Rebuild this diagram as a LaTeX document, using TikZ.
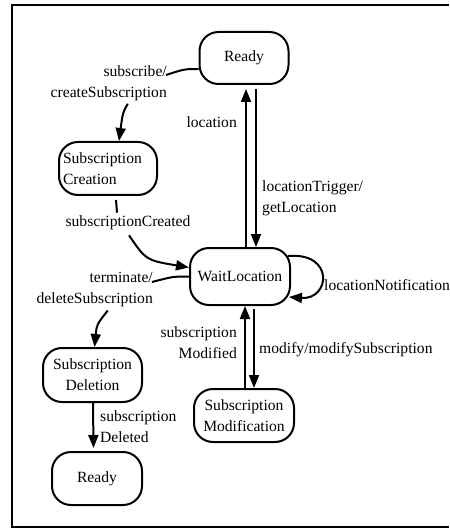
\documentclass[tikz,border=0pt]{standalone}
\usepackage{fontspec}
\setmainfont{Liberation Serif}
\usetikzlibrary{arrows.meta,calc}
\begin{document}
\begin{tikzpicture}[x=1pt,y=-1pt,
  every node/.style={font=\fontsize{15.6}{21}\selectfont},
  state/.style={draw, line width=2pt, rounded corners=19pt, align=center, inner sep=2pt},
  lbl/.style={inner sep=0pt},
  edge/.style={line width=2pt},
  arr/.style={edge, -{Triangle[length=13pt,width=10pt]}}]
\useasboundingbox (0,0) rectangle (449,529);
% outer frame (open on the right)
\draw[line width=2pt] (449,5) -- (12,5) -- (12,527) -- (449,527);

% states
\node[state, minimum width=89pt, minimum height=52pt] (ready1) at (244,58) {Ready};
\node[state, minimum width=98pt, minimum height=53pt, text width=90pt, align=left] (create) at (108,168.5) {Subscription\\Creation};
\node[state, minimum width=100pt, minimum height=57pt] (wait) at (240,276.5) {WaitLocation};
\node[state, minimum width=99pt, minimum height=54pt] (del) at (92.5,375) {Subscription\\Deletion};
\node[state, minimum width=100pt, minimum height=53pt] (mod) at (244,415.5) {Subscription\\Modification};
\node[state, minimum width=90pt, minimum height=53pt] (ready2) at (97,478.5) {Ready};

% transition labels
\node[lbl, align=right, anchor=east] (lsub) at (167,83) {subscribe/\\createSubscription};
\node[lbl] (lcre) at (128,223) {subscriptionCreated};
\node[lbl, anchor=east] (lloc) at (237,122) {location};
\node[lbl, align=left, anchor=west] (ltrig) at (262,198) {locationTrigger/\\getLocation};
\node[lbl, anchor=west] (lnotif) at (324,285) {locationNotification};
\node[lbl, align=right, anchor=east] (lterm) at (153,289) {terminate/\\deleteSubscription};
\node[lbl, align=right, anchor=east] (lmodd) at (237,343) {subscription\\Modified};
\node[lbl, anchor=west] (lmod) at (259,350) {modify/modifySubscription};
\node[lbl, align=left, anchor=west] (ldel) at (100,427) {subscription\\Deleted};

% Ready -> Subscription Creation
\draw[edge] ($(ready1.west)+(0,11)$) .. controls ($(ready1.west)+(-14,11)$) .. ($(lsub.east)+(-1,-8)$);
\draw[arr] ($(lsub.south)+(19,3)$) .. controls ($(lsub.south)+(14,12)$) .. ($(create.north)+(11,0)$);

% Subscription Creation -> WaitLocation
\draw[edge] ($(create.south)+(8,4)$) -- ($(lcre.north)+(-11,-3)$);
\draw[arr] ($(lcre.south)+(1,5)$) .. controls ($(lcre.south)+(18,30)$) .. ($(wait.west)+(0,-9)$);

% Ready <-> WaitLocation
\draw[arr, shorten >=4pt] ($(wait.north)+(6,0)$) -- ($(ready1.south)+(2,0)$);
\draw[arr] ($(ready1.south)+(12,4)$) -- ($(wait.north)+(16,0)$);

% self loop on WaitLocation
\draw[arr] ($(wait.north east)+(-3,9)$) .. controls (335,252) and (330,300) .. ($(wait.south east)+(-2,-9)$);

% WaitLocation -> Subscription Deletion
\draw[edge] (wait.west) .. controls ($(wait.west)+(-16,0)$) .. ($(lterm.east)+(-1,-7)$);
\draw[arr] ($(lterm.south)+(13,4)$) .. controls ($(lterm.south)+(2,18)$) .. ($(del.north)+(2,0)$);

% WaitLocation <-> Subscription Modification
\draw[arr] ($(mod.north)+(1,0)$) -- ($(wait.south)+(5,0)$);
\draw[arr] ($(wait.south)+(14,3)$) -- ($(mod.north)+(10,0)$);

% Subscription Deletion -> Ready
\draw[arr] ($(del.south)+(0.5,0)$) -- ($(ready2.north)+(-3.5,-3)$);
\end{tikzpicture}
\end{document}
